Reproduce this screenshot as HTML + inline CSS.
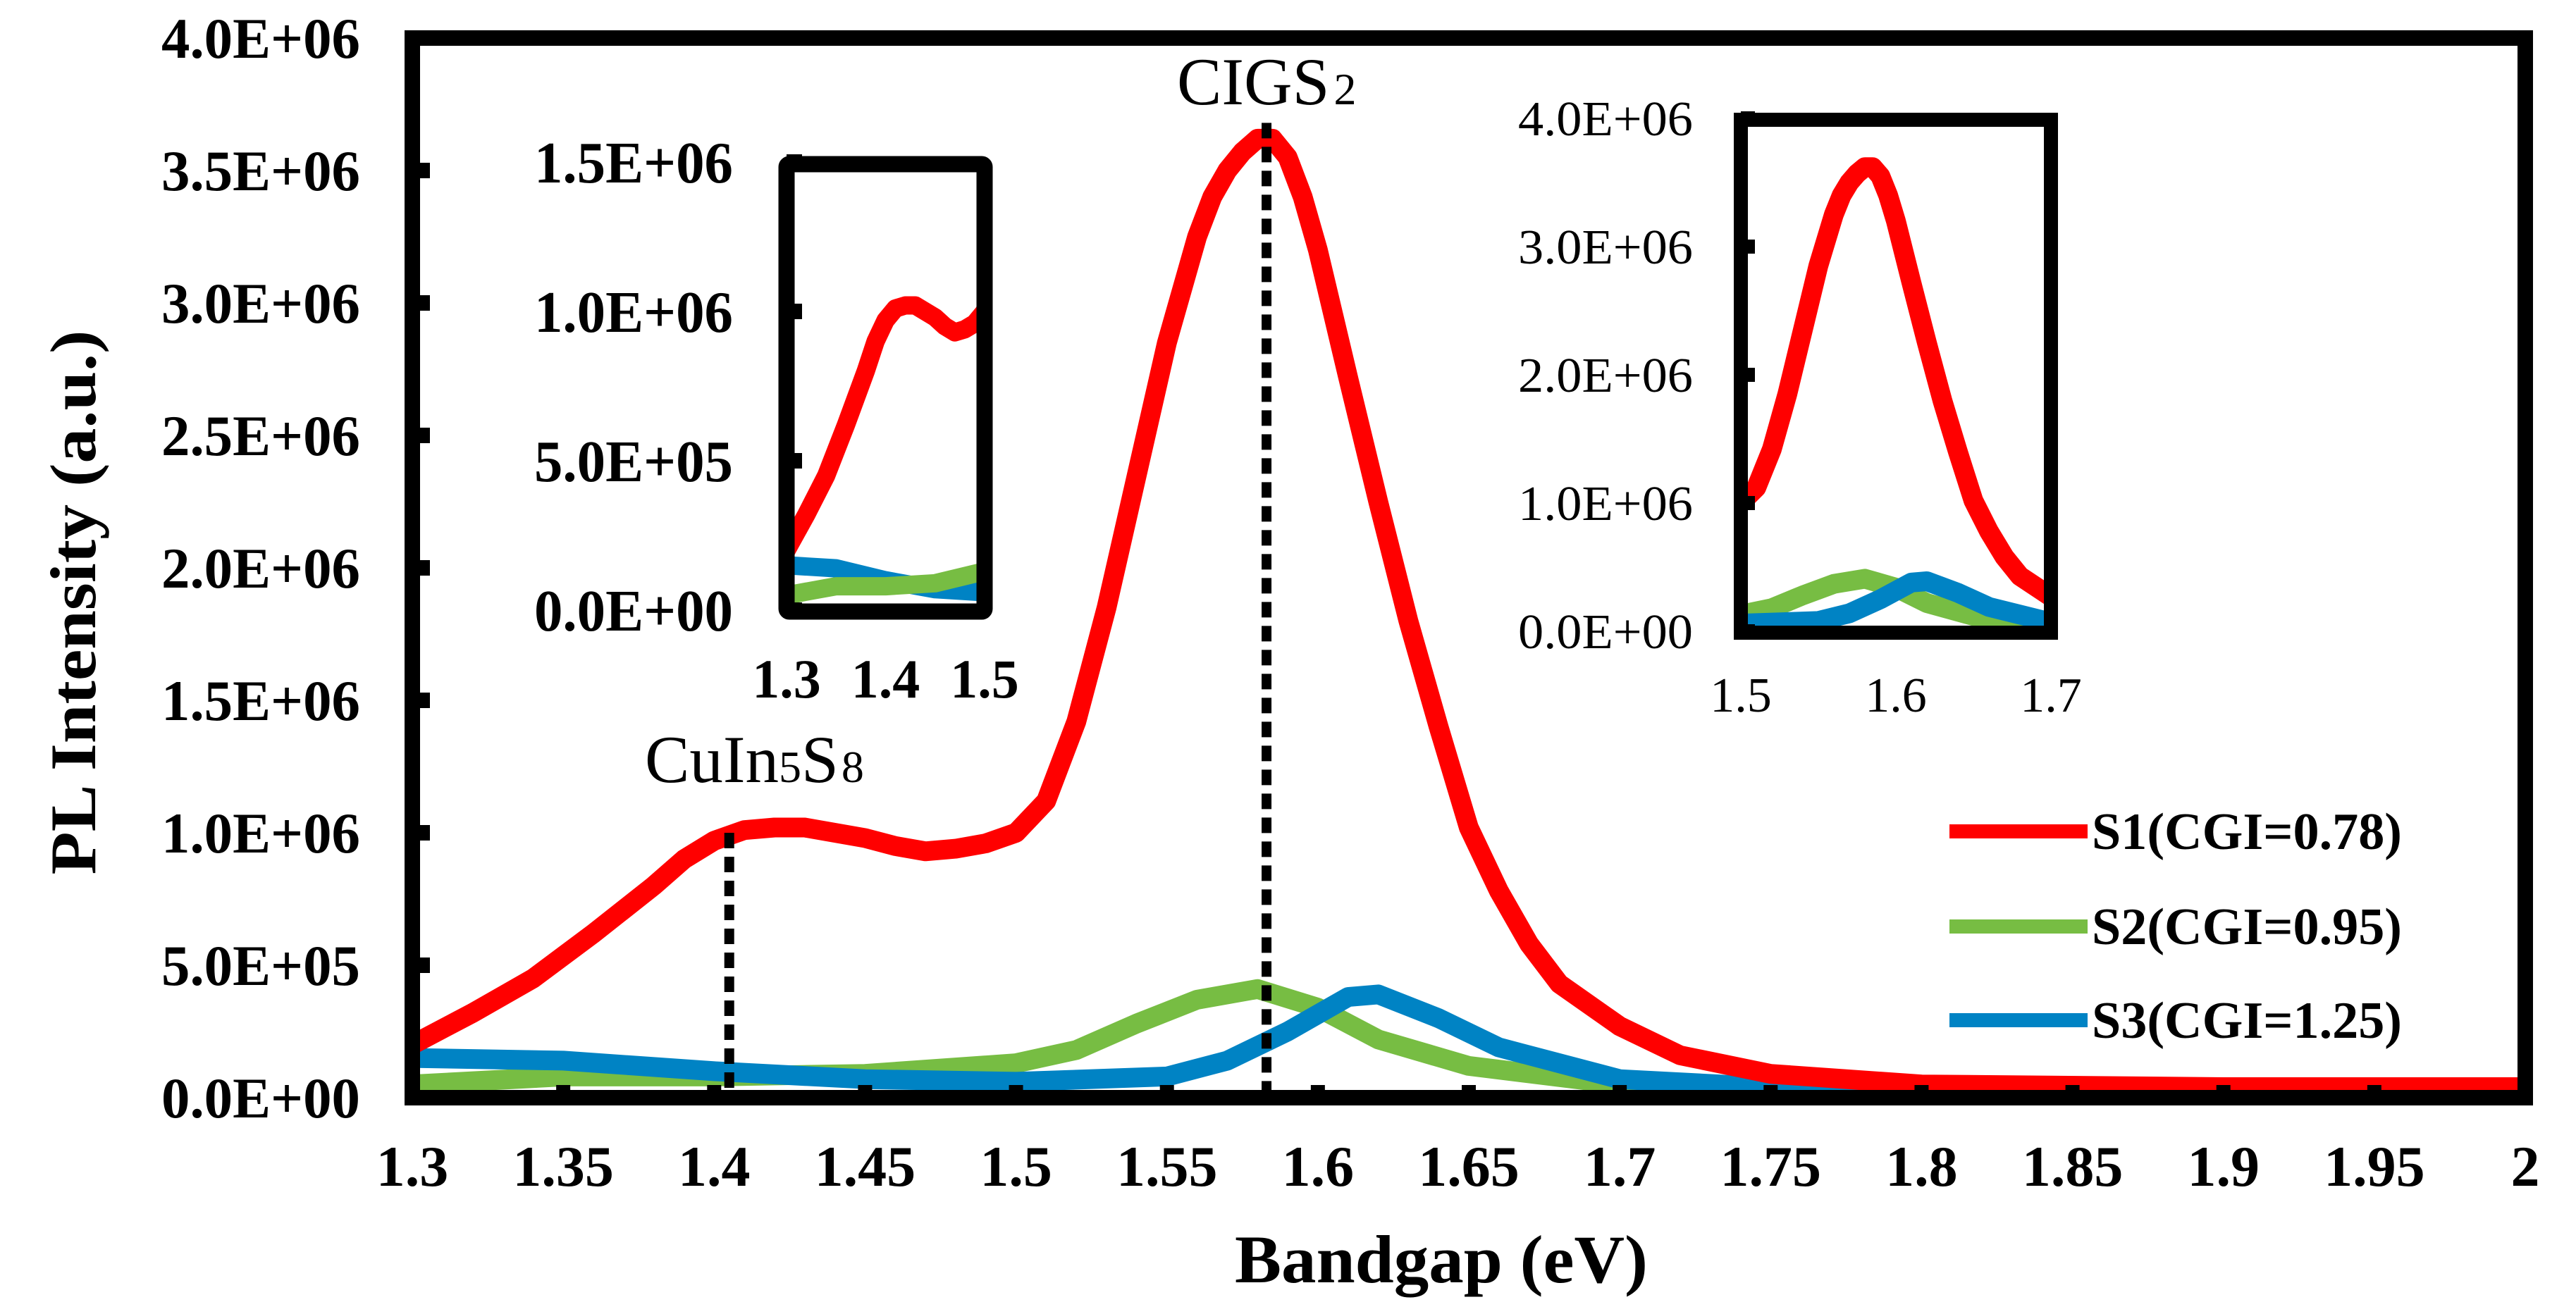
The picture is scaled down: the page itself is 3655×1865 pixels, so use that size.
<!DOCTYPE html>
<html><head><meta charset="utf-8"><style>
html,body{margin:0;padding:0;background:#fff;}
svg{display:block;}
text{font-family:"Liberation Serif",serif;fill:#000;}
</style></head><body>
<svg id="chart" width="3655" height="1865" viewBox="0 0 3655 1865" xmlns="http://www.w3.org/2000/svg">
<defs>
<clipPath id="clipMain"><rect x="585" y="54" width="2998" height="1504"/></clipPath>
<clipPath id="clipIn1"><rect x="1116" y="233" width="281" height="635"/></clipPath>
<clipPath id="clipIn2"><rect x="2470" y="170" width="440" height="728"/></clipPath>
</defs>
<g id="layer"></g>
</svg>
<script>
const xTicks = [1.3,1.35,1.4,1.45,1.5,1.55,1.6,1.65,1.7,1.75,1.8,1.85,1.9,1.95,2];
const xTickLabels = ["1.3","1.35","1.4","1.45","1.5","1.55","1.6","1.65","1.7","1.75","1.8","1.85","1.9","1.95","2"];
const yTicks = [0,0.5e6,1e6,1.5e6,2e6,2.5e6,3e6,3.5e6,4e6];
const yTickLabels = ["0.0E+00","5.0E+05","1.0E+06","1.5E+06","2.0E+06","2.5E+06","3.0E+06","3.5E+06","4.0E+06"];
const s1x = [1.30,1.32,1.34,1.36,1.38,1.39,1.40,1.41,1.42,1.43,1.44,1.45,1.46,1.47,1.48,1.49,1.50,1.51,1.52,1.53,1.54,1.55,1.56,1.565,1.57,1.575,1.58,1.585,1.59,1.595,1.60,1.61,1.62,1.63,1.64,1.65,1.66,1.67,1.68,1.70,1.72,1.75,1.80,1.90,2.00];
const s1y = [0.20,0.32,0.45,0.62,0.80,0.90,0.97,1.01,1.02,1.02,1.00,0.98,0.95,0.93,0.94,0.96,1.00,1.12,1.42,1.85,2.35,2.85,3.25,3.40,3.50,3.57,3.62,3.62,3.55,3.40,3.20,2.72,2.25,1.80,1.40,1.02,0.78,0.58,0.43,0.27,0.16,0.09,0.05,0.04,0.04];
const s2x = [1.30,1.35,1.40,1.45,1.50,1.52,1.54,1.56,1.58,1.60,1.62,1.65,1.70,1.75,2.00];
const s2y = [0.05,0.08,0.08,0.09,0.13,0.18,0.28,0.37,0.41,0.34,0.22,0.12,0.05,0.03,0.03];
const s3x = [1.30,1.35,1.40,1.45,1.50,1.55,1.57,1.59,1.61,1.62,1.64,1.66,1.70,1.75,2.00];
const s3y = [0.15,0.14,0.10,0.07,0.06,0.08,0.14,0.25,0.38,0.39,0.30,0.19,0.07,0.04,0.03];
const in1Ticks = [1.3,1.4,1.5];
const in1YTicks = [0,0.5e6,1e6,1.5e6];
const in1YLabels = ["0.0E+00","5.0E+05","1.0E+06","1.5E+06"];
const in2Ticks = [1.5,1.6,1.7];
const in2YTicks = [0,1e6,2e6,3e6,4e6];
const in2YLabels = ["0.0E+00","1.0E+06","2.0E+06","3.0E+06","4.0E+06"];
const legendLabels = ["S1(CGI=0.78)","S2(CGI=0.95)","S3(CGI=1.25)"];
const colors = ["#ff0000","#77bd43","#0083c4"];

const NS="http://www.w3.org/2000/svg";
const layer=document.getElementById('layer');
function mk(tag,attrs,parent){const e=document.createElementNS(NS,tag);for(const k in attrs)e.setAttribute(k,attrs[k]);(parent||layer).appendChild(e);return e;}
function txt(s,attrs,parent){const e=mk('text',attrs,parent);e.textContent=s;return e;}

const X=v=>585+(v-1.3)/(0.7)*2998;
const Y=v=>1558-v/4e6*1504;
const X1=v=>1116+(v-1.3)/0.2*281;
const Y1=v=>866-v/1.5e6*636;
const X2=v=>2470+(v-1.5)/0.2*440;
const Y2=v=>896-v/4e6*728;

const series=[[s1x,s1y],[s2x,s2y],[s3x,s3y]];
const names=['s1','s2','s3'];

[1,2,0].forEach(i=>{
  const [xs,ys]=series[i];
  const pts=xs.map((x,j)=>X(x).toFixed(1)+','+Y(ys[j]*1e6).toFixed(1)).join(' ');
  const p=mk('polyline',{points:pts,fill:'none',stroke:colors[i],'stroke-width':28,'stroke-linejoin':'round','clip-path':'url(#clipMain)'});
  
  
});

const d1=mk('line',{x1:X(1.405),x2:X(1.405),y1:Y(1.0e6),y2:1548,stroke:'#000','stroke-width':14,'stroke-dasharray':'22 12'});


const d2=mk('line',{x1:X(1.583),x2:X(1.583),y1:Y(3.68e6),y2:1548,stroke:'#000','stroke-width':14,'stroke-dasharray':'22 12'});



const fr=mk('rect',{x:585,y:54,width:2998,height:1504,fill:'none',stroke:'#000','stroke-width':22});


yTicks.forEach((v,i)=>{
  const t=mk('line',{x1:585,x2:610,y1:Y(v),y2:Y(v),stroke:'#000','stroke-width':22});
  
  
  const l=txt(yTickLabels[i],{x:511,y:Y(v)+28,'text-anchor':'end','font-size':82,'font-weight':'bold',textLength:282,lengthAdjust:'spacingAndGlyphs'});
  
  
});
xTicks.forEach((v,i)=>{
  const t=mk('line',{x1:X(v),x2:X(v),y1:1558,y2:1540,stroke:'#000','stroke-width':20});
  
  
  const l=txt(xTickLabels[i],{x:X(v),y:1683,'text-anchor':'middle','font-size':82,'font-weight':'bold'});
  
  
});

const g1=mk('g',{});


[2,1,0].forEach(i=>{
  const [xs,ys]=series[i];
  const pts=xs.map((x,j)=>X1(x).toFixed(1)+','+Y1(ys[j]*1e6).toFixed(1)).join(' ');
  const p=mk('polyline',{points:pts,fill:'none',stroke:colors[i],'stroke-width':26,'stroke-linejoin':'round','clip-path':'url(#clipIn1)'},g1);
  
  
});
const f1=mk('rect',{x:1116,y:233,width:281,height:635,fill:'none',stroke:'#000','stroke-width':23,rx:4},g1);


in1YTicks.forEach((v,i)=>{
  const t=mk('line',{x1:1116,x2:1138,y1:Y1(v),y2:Y1(v),stroke:'#000','stroke-width':22},g1);
  
  
  const l=txt(in1YLabels[i],{x:1040,y:Y1(v)+29,'text-anchor':'end','font-size':84,'font-weight':'bold',textLength:282,lengthAdjust:'spacingAndGlyphs'},g1);
  
  
});
in1Ticks.forEach(v=>{
  const l=txt(String(v),{x:X1(v),y:990,'text-anchor':'middle','font-size':78,'font-weight':'bold'},g1);
  
  
});

const g2=mk('g',{});


[1,2,0].forEach(i=>{
  const [xs,ys]=series[i];
  const pts=xs.map((x,j)=>X2(x).toFixed(1)+','+Y2(ys[j]*1e6).toFixed(1)).join(' ');
  const p=mk('polyline',{points:pts,fill:'none',stroke:colors[i],'stroke-width':28,'stroke-linejoin':'round','clip-path':'url(#clipIn2)'},g2);
  
  
});
const f2=mk('rect',{x:2470,y:170,width:440,height:728,fill:'none',stroke:'#000','stroke-width':20},g2);


in2YTicks.forEach((v,i)=>{
  const t=mk('line',{x1:2470,x2:2490,y1:Y2(v),y2:Y2(v),stroke:'#000','stroke-width':20},g2);
  
  
  const l=txt(in2YLabels[i],{x:2402,y:Y2(v)+24,'text-anchor':'end','font-size':70,textLength:248,lengthAdjust:'spacingAndGlyphs'},g2);
  
  
});
in2Ticks.forEach(v=>{
  const l=txt(String(v),{x:X2(v),y:1010,'text-anchor':'middle','font-size':70},g2);
  
  
});

const lg=mk('g',{});


const legY=[1180,1315,1448];
legendLabels.forEach((s,i)=>{
  const ln=mk('line',{x1:2766,x2:2962,y1:legY[i],y2:legY[i],stroke:colors[i],'stroke-width':20},lg);
  
  
  const t=txt(s,{x:2968,y:legY[i]+25,'font-size':74,'font-weight':'bold',textLength:440,lengthAdjust:'spacingAndGlyphs'},lg);
  
  
});
</script>
<svg style="position:absolute;left:0;top:0" width="3655" height="1865" viewBox="0 0 3655 1865" xmlns="http://www.w3.org/2000/svg">
<text x="1670" y="148" font-size="95" style="font-family:'Liberation Serif',serif">CIGS<tspan font-size="64" dx="6">2</tspan></text>
<text x="915" y="1110" font-size="95" style="font-family:'Liberation Serif',serif">CuIn<tspan font-size="64">5</tspan>S<tspan font-size="64" dx="4">8</tspan></text>
<text transform="translate(135,855) rotate(-90)" text-anchor="middle" font-size="92" font-weight="bold" textLength="773" lengthAdjust="spacingAndGlyphs" style="font-family:'Liberation Serif',serif">PL Intensity (a.u.)</text>
<text x="2045" y="1820" text-anchor="middle" font-size="96" font-weight="bold" textLength="586" lengthAdjust="spacingAndGlyphs" style="font-family:'Liberation Serif',serif">Bandgap (eV)</text>
</svg>
</body></html>
